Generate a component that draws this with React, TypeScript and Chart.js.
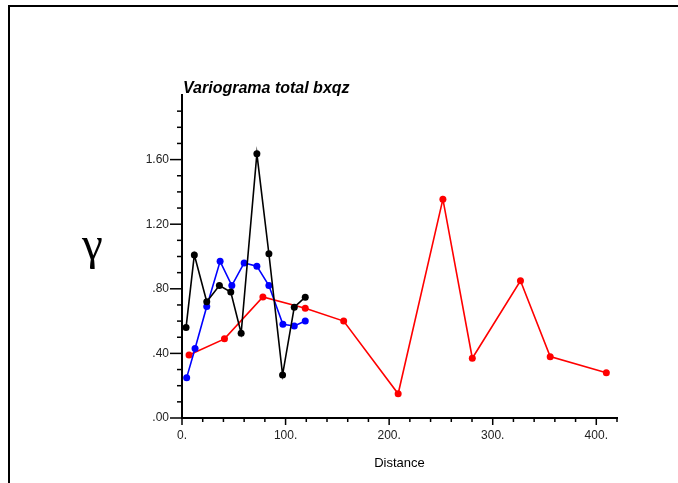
import React, { useEffect, useRef } from "react";
import { Chart, registerables } from "chart.js";
Chart.register(...registerables);

const blackX = [3.9, 11.9, 23.9, 36.1, 47.1, 57.1, 72.3, 83.9, 97.1, 108.4, 119];
const blackY = [0.56, 1.01, 0.72, 0.82, 0.78, 0.525, 1.636, 1.017, 0.267, 0.686, 0.748];
const blueX = [4.5, 12.6, 23.9, 36.8, 48.1, 60, 72.3, 83.9, 97.4, 108.4, 119];
const blueY = [0.25, 0.43, 0.69, 0.97, 0.82, 0.96, 0.94, 0.82, 0.58, 0.57, 0.6];
const redX = [6.8, 41, 78.1, 119, 156.1, 208.7, 251.9, 280.3, 326.8, 355.5, 409.7];
const redY = [0.39, 0.49, 0.75, 0.68, 0.6, 0.15, 1.355, 0.37, 0.85, 0.38, 0.28];

const xTickValues = [0, 100, 200, 300, 400];
const yTickValues = [0, 0.4, 0.8, 1.2, 1.6];
const xMinorStep = 20;
const yMinorStep = 0.1;
const xMax = 420;
const yMax = 2.0;

const titleText = "Variograma total bxqz";
const xTitleText = "Distance";
const yTitleText = "γ";

const FONT = '"Liberation Sans", Arial, Helvetica, sans-serif';

function toPts(xs: number[], ys: number[]) {
  return xs.map((x, i) => ({ x, y: ys[i] }));
}

function fmtY(v: number) {
  const s = v.toFixed(2);
  return s.startsWith("0") ? s.slice(1) : s;
}

const ticksPlugin = {
  id: "customTicks",
  afterDraw(chart: any) {
    const { ctx, scales } = chart;
    const x = scales.x;
    const y = scales.y;
    ctx.save();
    ctx.strokeStyle = "#000";
    ctx.lineWidth = 1.5;
    const nx = Math.round(xMax / xMinorStep);
    for (let i = 0; i <= nx; i++) {
      const v = i * xMinorStep;
      const px = x.getPixelForValue(v);
      const major = xTickValues.includes(v);
      const len = major ? 7 : 4;
      ctx.beginPath();
      ctx.moveTo(px, y.bottom);
      ctx.lineTo(px, y.bottom + len);
      ctx.stroke();
    }
    const ny = Math.round(yMax / yMinorStep);
    for (let i = 0; i < ny; i++) {
      const v = i * yMinorStep;
      const py = y.getPixelForValue(v);
      const major = i % 4 === 0;
      const len = major ? 12 : 5;
      ctx.beginPath();
      ctx.moveTo(x.left, py);
      ctx.lineTo(x.left - len, py);
      ctx.stroke();
    }
    ctx.fillStyle = "#000";
    ctx.font = `italic bold 16px ${FONT}`;
    ctx.textAlign = "left";
    ctx.textBaseline = "alphabetic";
    ctx.fillText(titleText, chart.chartArea.left + 1, chart.chartArea.top - 2);
    ctx.restore();
  },
};

export default function App() {
  const ref = useRef<HTMLCanvasElement | null>(null);
  useEffect(() => {
    if (!ref.current) return;
    const mk = (label: string, xs: number[], ys: number[], color: string) => ({
      label,
      data: toPts(xs, ys),
      showLine: true,
      borderColor: color,
      backgroundColor: color,
      borderWidth: 1.6,
      pointRadius: 3.5,
      pointBorderWidth: 0,
      pointBackgroundColor: color,
      clip: false as any,
    });
    const chart = new Chart(ref.current, {
      type: "scatter",
      data: {
        datasets: [
          mk("black", blackX, blackY, "#000000"),
          mk("blue", blueX, blueY, "#0000ff"),
          mk("red", redX, redY, "#ff0000"),
        ],
      },
      options: {
        animation: false,
        responsive: false,
        layout: { padding: { left: 100, right: 61, top: 95, bottom: 0 } },
        plugins: { legend: { display: false }, tooltip: { enabled: false } },
        scales: {
          x: {
            type: "linear",
            min: 0,
            max: xMax,
            grid: { display: false, drawTicks: false },
            border: { display: true, color: "#000", width: 2 },
            afterBuildTicks: (s: any) => {
              s.ticks = xTickValues.map((v) => ({ value: v }));
            },
            afterFit: (s: any) => {
              s.height = 65;
            },
            ticks: {
              autoSkip: false,
              maxRotation: 0,
              padding: 10,
              color: "#222",
              font: { family: FONT, size: 12 },
              callback: (v: any) => `${v}.`,
            },
            title: {
              display: true,
              text: xTitleText,
              color: "#000",
              font: { family: FONT, size: 13 },
              padding: { top: 0, bottom: 12 },
            },
          },
          y: {
            type: "linear",
            min: 0,
            max: yMax,
            grid: { display: false, drawTicks: false },
            border: { display: true, color: "#000", width: 2 },
            afterBuildTicks: (s: any) => {
              s.ticks = yTickValues.map((v) => ({ value: v }));
            },
            afterFit: (s: any) => {
              s.width = 82;
            },
            ticks: {
              autoSkip: false,
              padding: 13,
              color: "#222",
              font: { family: FONT, size: 12 },
              callback: (v: any) => fmtY(Number(v)),
            },
          },
        },
      },
      plugins: [ticksPlugin],
    });
    return () => chart.destroy();
  }, []);

  return (
    <div style={{ position: "absolute", left: 0, top: 0, width: 678, height: 483, background: "#fff", overflow: "hidden" }}>
      <div
        style={{
          position: "absolute",
          left: 8,
          top: 5,
          width: 700,
          height: 476,
          borderTop: "2px solid #000",
          borderLeft: "2px solid #000",
          borderBottom: "1px solid #e6e6e6",
        }}
      />
      <canvas ref={ref} width={678} height={483} style={{ position: "absolute", left: 0, top: 0 }} />
      <span
        style={{
          position: "absolute",
          left: 82,
          top: 218,
          fontFamily: '"Liberation Serif", "Times New Roman", serif',
          fontSize: 47,
          lineHeight: "50px",
          color: "#000",
        }}
      >
        {yTitleText}
      </span>
    </div>
  );
}
